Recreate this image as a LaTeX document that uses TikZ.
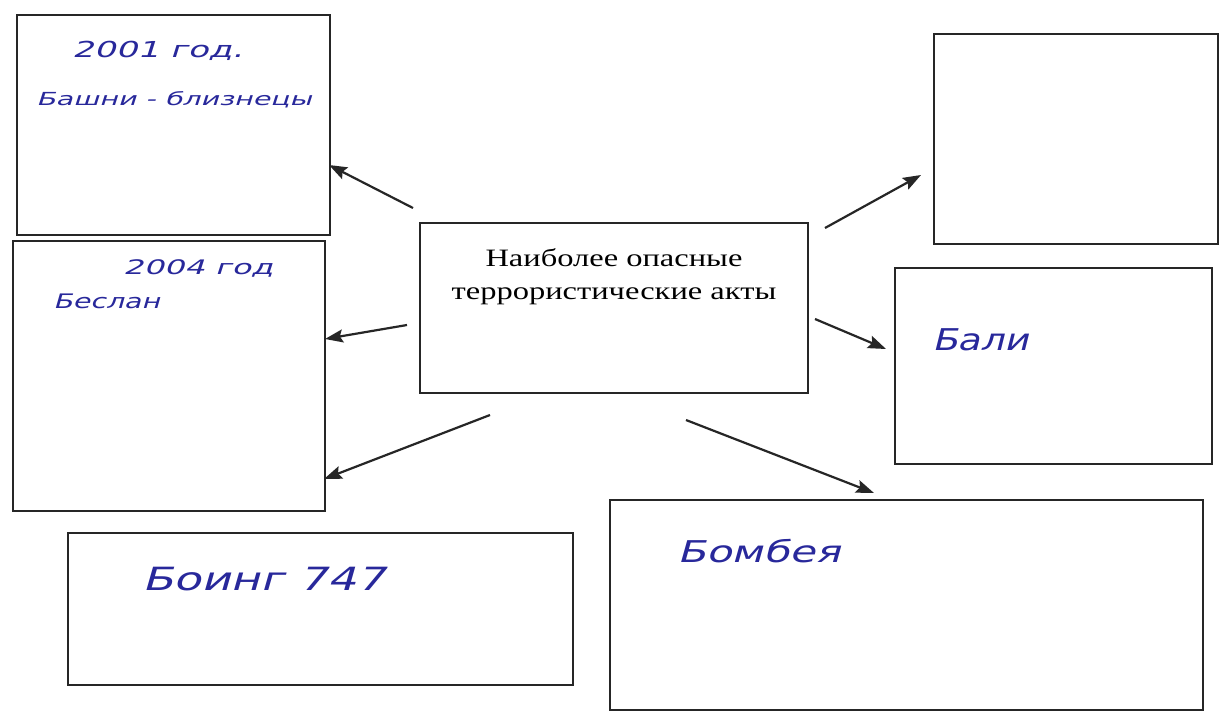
\documentclass[tikz,border=0pt]{standalone}
\usepackage{graphicx}
\usepackage{fontspec}
\setmainfont{Liberation Serif}
\newfontfamily\ctrfont[FakeStretch=1.3]{Liberation Serif}
\newfontfamily\hand[FakeSlant=0.2]{DejaVu Sans}
\usetikzlibrary{arrows.meta}
\definecolor{ink}{RGB}{40,40,155}
\begin{document}
\begin{tikzpicture}[x=1pt,y=-1pt,
  box/.style={draw=black!85, line width=2.5pt, anchor=north west, inner sep=0pt, outer sep=0pt},
  arr/.style={-{Stealth[length=18pt,width=13pt,inset=3pt]}, line width=2.2pt, black!85},
  hw/.style={text=ink, anchor=base west, inner sep=0pt},
  ctr/.style={font=\ctrfont\fontsize{25}{29}\selectfont, anchor=base, inner sep=0pt},
]
\useasboundingbox (0,0) rectangle (1219,715);
\fill[white] (0,0) rectangle (1219,715);

% boxes
\node[box, minimum width=313pt, minimum height=220pt] (tl) at (17,15) {};
\node[box, minimum width=312pt, minimum height=270pt] (ml) at (13,241) {};
\node[box, minimum width=505pt, minimum height=152pt] (bl) at (68,533) {};
\node[box, minimum width=388pt, minimum height=170pt] (c) at (420,223) {};
\node[box, minimum width=284pt, minimum height=210pt] (tr) at (934,34) {};
\node[box, minimum width=317pt, minimum height=196pt] (br) at (895,268) {};
\node[box, minimum width=593pt, minimum height=210pt] (bm) at (610,500) {};

% centre text
\node[ctr] (c1) at (614,266) {Наиболее опасные};
\node[ctr] (c2) at (614,299) {террористические акты};

% handwriting
\node[hw, font=\hand\fontsize{22}{26}\selectfont] (t1) at (72,57) {\scalebox{1.55}[1]{2001 год.}};
\node[hw, font=\hand\fontsize{18}{22}\selectfont] (t2) at (36,105) {\scalebox{1.58}[1]{Башни - близнецы}};
\node[hw, font=\hand\fontsize{20}{24}\selectfont] (t3) at (123,274) {\scalebox{1.6}[1]{2004 год}};
\node[hw, font=\hand\fontsize{20}{24}\selectfont] (t4) at (53,308) {\scalebox{1.42}[1]{Беслан}};
\node[hw, font=\hand\fontsize{30}{34}\selectfont] (t5) at (932,350) {\scalebox{1.25}[1]{Бали}};
\node[hw, font=\hand\fontsize{32}{36}\selectfont] (t6) at (142,590) {\scalebox{1.42}[1]{Боинг 747}};
\node[hw, font=\hand\fontsize{30}{34}\selectfont] (t7) at (677,562) {\scalebox{1.4}[1]{Бомбея}};

% arrow coordinates
\coordinate (s1) at (413,208); \coordinate (e1) at (329,165);
\coordinate (s2) at (407,325); \coordinate (e2) at (325,339);
\coordinate (s3) at (490,415); \coordinate (e3) at (324,479);
\coordinate (s4) at (825,228); \coordinate (e4) at (921,175);
\coordinate (s5) at (815,319); \coordinate (e5) at (886,349);
\coordinate (s6) at (686,420); \coordinate (e6) at (874,493);

\draw[arr] (s1) -- (e1);
\draw[arr] (s2) -- (e2);
\draw[arr] (s3) -- (e3);
\draw[arr] (s4) -- (e4);
\draw[arr] (s5) -- (e5);
\draw[arr] (s6) -- (e6);
\end{tikzpicture}
\end{document}
